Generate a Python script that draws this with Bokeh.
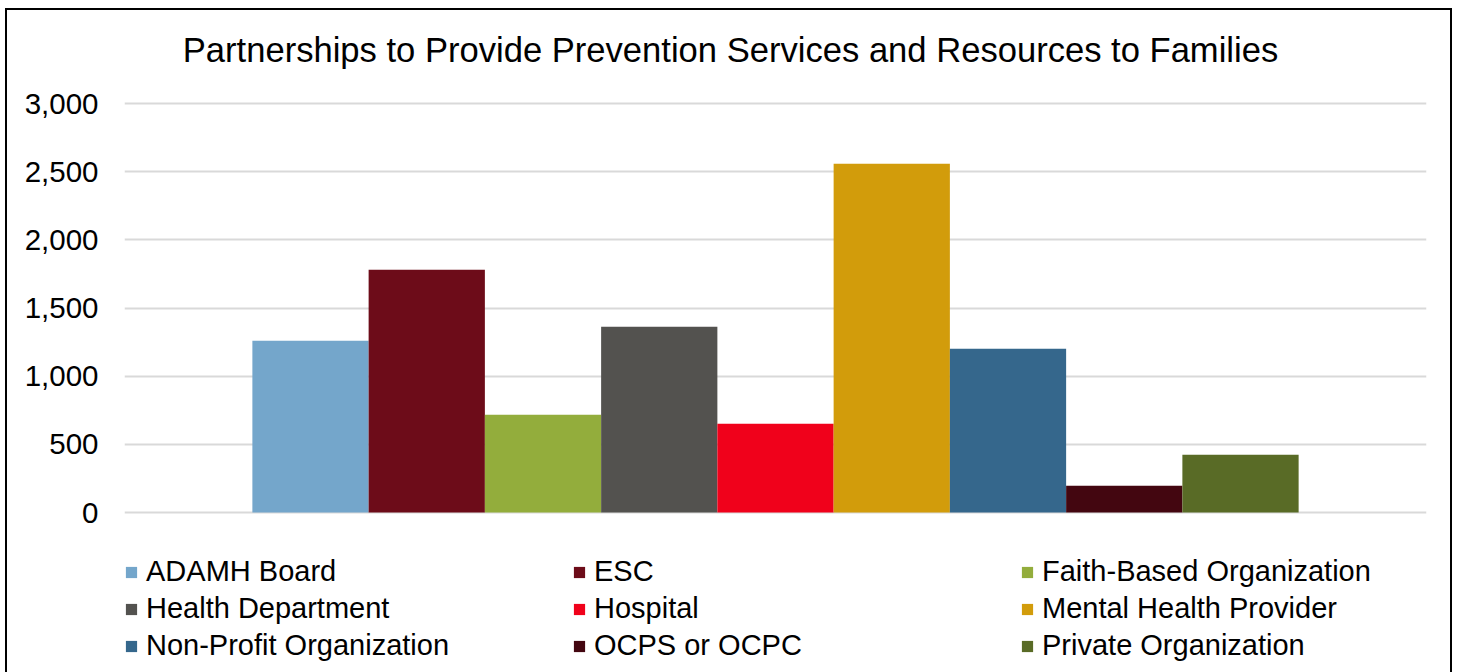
import numpy as np
from bokeh.plotting import figure
from bokeh.models import ColumnDataSource, Range1d, FixedTicker, NumeralTickFormatter, Label
from bokeh.embed import file_html
from bokeh.resources import INLINE

# ---- data ----
categories = ["ADAMH Board", "ESC", "Faith-Based Organization", "Health Department",
              "Hospital", "Mental Health Provider", "Non-Profit Organization",
              "OCPS or OCPC", "Private Organization"]
values = [1260, 1780, 717, 1362, 651, 2558, 1201, 196, 423]
colors = ["#74A6CB", "#6D0C19", "#93AD3C", "#53524F", "#F0011B",
          "#D29C0B", "#35678C", "#430610", "#596B26"]
y_ticks = [0, 500, 1000, 1500, 2000, 2500, 3000]
title_text = "Partnerships to Provide Prevention Services and Resources to Families"

n = len(categories)
xpos = np.arange(n) - (n - 1) / 2.0
src = ColumnDataSource(dict(x=xpos, top=values, name=categories, color=colors))

FONT = "Liberation Sans"

# the frame spans the full canvas height so title and legend can sit inside it
p = figure(width=1447, height=670, output_backend="svg", toolbar_location=None,
           x_range=Range1d(-5.6, 5.6), y_range=Range1d(-1232, 3682.5),
           min_border_left=117, min_border_right=28, min_border_top=0, min_border_bottom=0,
           styles={"border": "2px solid #000", "margin-left": "5px", "margin-top": "8px"})

p.outline_line_color = None
p.background_fill_color = "white"
p.border_fill_color = "white"

p.xaxis.visible = False
p.xgrid.visible = False

yax = p.yaxis[0]
yax.ticker = FixedTicker(ticks=y_ticks)
yax.formatter = NumeralTickFormatter(format="0,0")
yax.axis_line_color = None
yax.major_tick_line_color = None
yax.minor_tick_line_color = None
yax.major_tick_out = 0
yax.major_tick_in = 0
yax.major_label_standoff = 26
yax.major_label_text_font = FONT
yax.major_label_text_font_size = "29.5px"
yax.major_label_text_color = "#000000"

p.ygrid.ticker = FixedTicker(ticks=y_ticks)
p.ygrid.grid_line_color = "#D9D9D9"
p.ygrid.grid_line_width = 2

p.vbar(x="x", top="top", bottom=0, width=1.0, source=src, fill_color="color",
       line_color=None, legend_field="name")

title = Label(x=606, y=631, x_units="screen", y_units="screen", text=title_text,
              text_font=FONT, text_font_size="34.6px", text_color="#000000",
              text_align="center", text_baseline="alphabetic")
p.add_layout(title)

leg = p.legend[0]
leg.orientation = "horizontal"
leg.ncols = 3
leg.location = (0, 18)
leg.padding = 0
leg.margin = 0
leg.border_line_color = None
leg.background_fill_alpha = 0
leg.glyph_width = 14
leg.glyph_height = 14
leg.label_standoff = 8
leg.spacing = 4
leg.label_width = 422
leg.label_height = 30
leg.label_text_font = FONT
leg.label_text_font_size = "29px"
leg.label_text_color = "#000000"

open("out.html", "w").write(file_html(p, INLINE))
